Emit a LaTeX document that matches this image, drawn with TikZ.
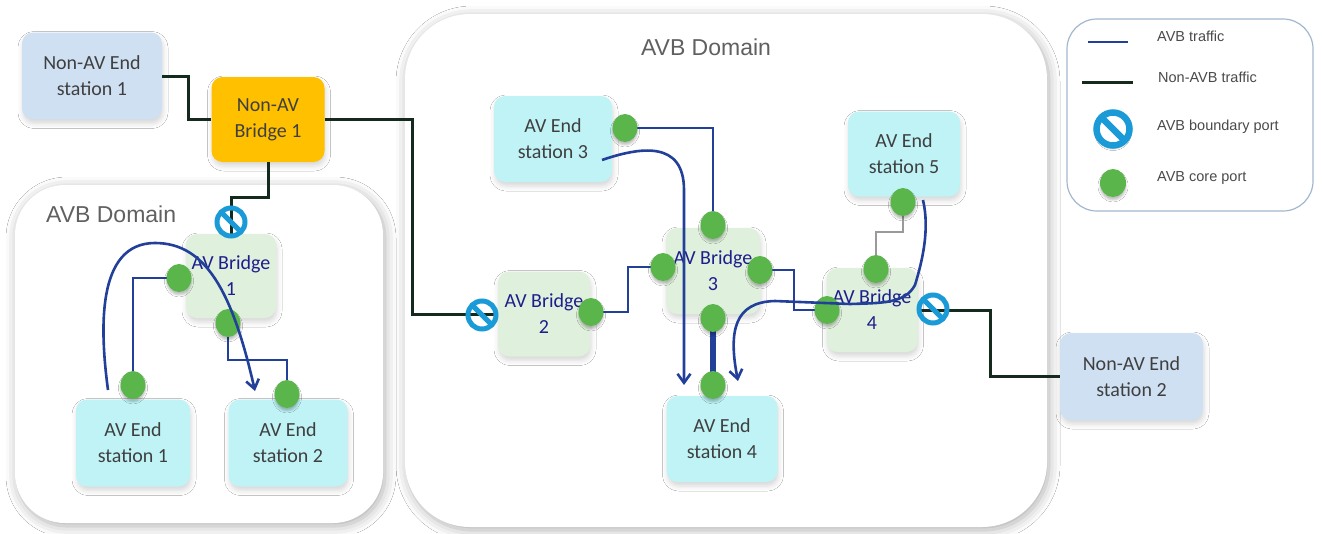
\documentclass[tikz,border=0pt]{standalone}
\usepackage{fontspec}
\setmainfont{Carlito}
\newfontfamily\hfont{Liberation Sans}
\usetikzlibrary{arrows.meta,shadows.blur,shapes.geometric}
\definecolor{avbblue}{HTML}{22409A}
\definecolor{nonavb}{HTML}{142A1C}
\definecolor{coregreen}{HTML}{5AB54B}
\definecolor{bndblue}{HTML}{1A9AD6}
\definecolor{avesfill}{HTML}{BFF3F6}
\definecolor{nonesfill}{HTML}{CFE0F3}
\definecolor{bridgefill}{HTML}{DFF0DC}
\definecolor{nonbridgefill}{HTML}{FFC000}
\definecolor{labelnavy}{HTML}{1E1E8C}
\definecolor{txtgray}{HTML}{3F3F3F}
\definecolor{domgray}{HTML}{606060}
\definecolor{leggray}{HTML}{4A4A4A}
\definecolor{legborder}{HTML}{A3B8CF}
\definecolor{linkgray}{HTML}{9A9A9A}
\tikzset{
  stbox/.style={rounded corners=11pt, align=center, font=\fontsize{20}{26}\selectfont,
    text=txtgray, inner sep=0pt,
    blur shadow={shadow xshift=1pt, shadow yshift=-4pt, shadow blur radius=5pt, shadow opacity=16}},
  aves/.style={stbox, fill=avesfill},
  nones/.style={stbox, fill=nonesfill},
  avbr/.style={stbox, fill=bridgefill, text=labelnavy},
  nonbr/.style={stbox, fill=nonbridgefill},
  avbdomain/.style={fill=white, blur shadow={shadow xshift=2pt, shadow yshift=-3pt, shadow blur radius=11pt, shadow opacity=32}},
  coreport/.style={ellipse, fill=coregreen, minimum width=25pt, minimum height=28pt, inner sep=0pt,
    blur shadow={shadow xshift=0pt, shadow yshift=-3pt, shadow blur radius=2pt, shadow opacity=25}},
  bndport/.style={circle, draw=bndblue, line width=5pt, minimum size=28pt, inner sep=0pt,
    path picture={\draw[bndblue, line width=5pt] (path picture bounding box.north west) -- (path picture bounding box.south east);}},
  avbline/.style={draw=avbblue, line width=2.6pt},
  nonline/.style={draw=nonavb, line width=3pt},
  trafarrow/.style={avbline, -{Straight Barb[length=9pt, width=13pt]}},
  domlabel/.style={font=\hfont\fontsize{23}{27}\selectfont, text=domgray, inner sep=0pt},
  leglabel/.style={font=\hfont\fontsize{14.5}{17}\selectfont, text=leggray, anchor=west, inner sep=0pt},
}
\begin{document}
\begin{tikzpicture}[x=1pt, y=-1pt]
\useasboundingbox[fill=white] (0,0) rectangle (1322,533);

% domains
\path[avbdomain, rounded corners=50pt] (15,185) rectangle (383,523);
\path[avbdomain, rounded corners=65pt] (405,14) rectangle (1047,527);
\node[domlabel] (dombig) at (706,47) {AVB Domain};
\node[domlabel, anchor=west] (domsmall) at (46,214) {AVB Domain};

% legend
\path[draw=legborder, line width=1.2pt, fill=white, rounded corners=30pt] (1067,19) rectangle (1313,211);
\coordinate (lg1a) at (1088,42); \coordinate (lg1b) at (1128,42);
\coordinate (lg2a) at (1082,82); \coordinate (lg2b) at (1133,82);
\draw[avbline] (lg1a) -- (lg1b);
\draw[nonline] (lg2a) -- (lg2b);
\node[bndport, fill=white, minimum size=33pt, line width=6.5pt,
  path picture={\draw[bndblue, line width=6.5pt] (path picture bounding box.north west) -- (path picture bounding box.south east);},
  blur shadow={shadow xshift=0pt, shadow yshift=-3pt, shadow blur radius=2pt, shadow opacity=25}] (lgbnd) at (1113,129) {};
\node[coreport, minimum width=26pt] (lgcore) at (1113,183) {};
\node[leglabel] (lt1) at (1157,36) {AVB traffic};
\node[leglabel] (lt2) at (1158,77) {Non-AVB traffic};
\node[leglabel] (lt3) at (1157,127) {AVB boundary port};
\node[leglabel] (lt4) at (1157,178) {AVB core port};

% boxes
\node[nones, minimum width=140pt, minimum height=87pt] (nes1) at (92,76) {Non-AV End\\station 1};
\node[nonbr, minimum width=113pt, minimum height=85pt] (nbr1) at (268,119.5) {Non-AV\\Bridge 1};
\node[avbr, minimum width=90pt, minimum height=84pt] (br1) at (231,276) {AV Bridge\\1};
\node[aves, minimum width=114pt, minimum height=87pt] (es1) at (133,443) {AV End\\station 1};
\node[aves, minimum width=119pt, minimum height=87pt] (es2) at (288,443) {AV End\\station 2};
\node[aves, minimum width=118pt, minimum height=86pt] (es3) at (553,139) {AV End\\station 3};
\node[avbr, minimum width=92pt, minimum height=85pt] (br2) at (544,314) {AV Bridge\\2};
\node[avbr, minimum width=94pt, minimum height=86pt] (br3) at (713,271) {AV Bridge\\3};
\node[aves, minimum width=111pt, minimum height=86pt] (es4) at (722,439) {AV End\\station 4};
\node[aves, minimum width=112pt, minimum height=85pt] (es5) at (904,154) {AV End\\station 5};
\node[avbr, minimum width=91pt, minimum height=84pt] (br4) at (872,310) {AV Bridge\\4};
\node[nones, minimum width=143pt, minimum height=87pt] (nes2) at (1131.5,376.5) {Non-AV End\\station 2};

% non-AVB links
\draw[nonline] (nes1.east) -- (188,76) |- (nbr1.west);
\draw[nonline] (nbr1.east) -- (412,119.5) |- (br2.west);
\draw[nonline] (nbr1.south) -- (268,197) -| (br1.north);
\draw[nonline] (br4.east) -- (990,310) |- (nes2.west);

% core ports (positions)
\coordinate (c1) at (179,278);
\coordinate (c2) at (228,323);
\coordinate (c3) at (133,385);
\coordinate (c4) at (287,394);
\coordinate (c5) at (625,128);
\coordinate (c6) at (663,267);
\coordinate (c7) at (591,312);
\coordinate (c8) at (713,225);
\coordinate (c9) at (760,270);
\coordinate (c10) at (713,318);
\coordinate (c11) at (713,385);
\coordinate (c12) at (903,202);
\coordinate (c13) at (876,269);
\coordinate (c14) at (827,310);

% AVB links
\draw[avbline] (c3) |- (c1);
\draw[avbline] (c2) -- (228,360) -| (c4);
\draw[avbline] (c5) -| (c8);
\draw[avbline] (c7) -- (628,312) |- (c6);
\draw[avbline] (c9) -- (794,270) |- (c14);
\draw[avbline, line width=6pt] (c10) -- (c11);
\draw[draw=linkgray, line width=2pt] (c12) -- (903,232) -| (c13);

% ports on top of links
\foreach \c in {c1,c2,c3,c4,c5,c6,c7,c8,c9,c10,c11,c12,c13,c14}
  \node[coreport] (p\c) at (\c) {};

% boundary ports
\node[bndport] (bnd1) at (231,222) {};
\node[bndport] (bnd2) at (482,315) {};
\node[bndport] (bnd3) at (933,309) {};

% traffic arrows
\coordinate (a1s) at (108,390);
\coordinate (a1e) at (255,391);
\draw[trafarrow] (a1s) .. controls (100,330) and (96,243) .. (155,243) .. controls (205,243) and (232,290) .. (a1e);
\coordinate (a2s) at (602,160);
\coordinate (a2e) at (684,385);
\draw[trafarrow] (a2s) .. controls (640,147) and (684,140) .. (684,190) -- (a2e);
\coordinate (a3s) at (923,200);
\coordinate (a3e) at (738,381);
\draw[trafarrow] (a3s) .. controls (930,230) and (922,262) .. (915,285) .. controls (905,304) and (880,303) .. (850,304) -- (775,301) .. controls (735,302) and (728,330) .. (a3e);
\end{tikzpicture}
\end{document}
